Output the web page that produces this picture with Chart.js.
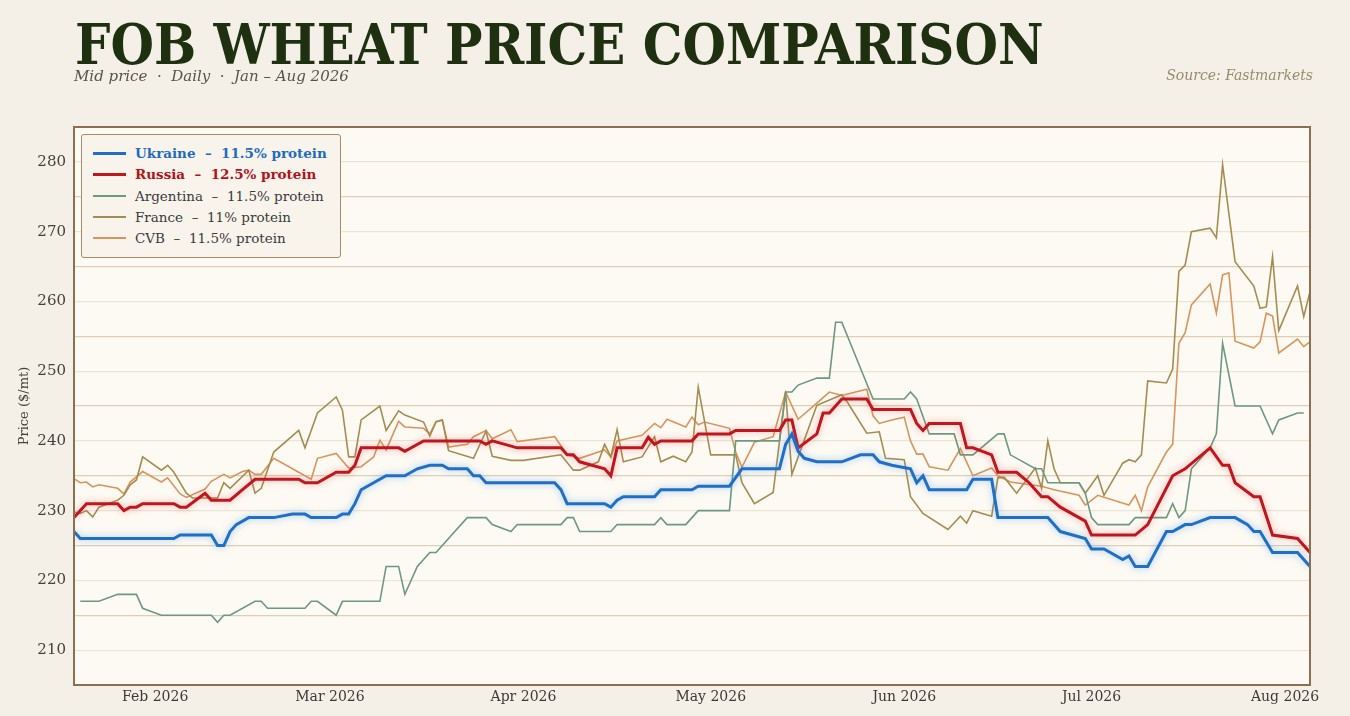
<!DOCTYPE html>
<html lang="en">
<head>
    <meta charset="UTF-8">
    <title>FOB Wheat Price Comparison</title>
    <script src="https://cdn.jsdelivr.net/npm/chart.js"></script>
    <style>
        body { margin: 0; background: #f4f0e8; }
        #page { position: relative; width: 1350px; height: 716px; overflow: hidden; }
        #chart { position: absolute; left: 0; top: 0; }
        #title {
            position: absolute; left: 75px; top: 17px; margin: 0;
            font: bold 55.5px/1 "DejaVu Serif Condensed", "DejaVu Serif", serif;
            color: #1e3010; white-space: nowrap;
        }
        #subtitle {
            position: absolute; left: 74px; top: 69px;
            font: italic 15px/1 "DejaVu Serif", serif;
            color: #5a5246; white-space: pre;
        }
        #source {
            position: absolute; right: 37px; top: 68px;
            font: italic 14px/1 "DejaVu Serif", serif;
            color: #9a8a6c; white-space: pre;
        }
        #legend {
            position: absolute; left: 81px; top: 134px; width: 260px; height: 124px;
            background: #f8f4ec; border: 1px solid #a58c68; border-radius: 3px;
            box-sizing: border-box;
        }
        .row { position: absolute; left: 0; height: 18px; }
        .swatch { position: absolute; left: 11px; width: 33px; }
        .label {
            position: absolute; left: 53px; top: 0; line-height: 18px;
            font-size: 13.5px; font-family: "DejaVu Serif", serif;
            white-space: pre; color: #3b3b3b;
        }
    </style>
</head>
<body>
<div id="page">
    <canvas id="chart" width="1350" height="716"></canvas>
    <h1 id="title">FOB WHEAT PRICE COMPARISON</h1>
    <div id="subtitle">Mid price  ·  Daily  ·  Jan – Aug 2026</div>
    <div id="source">Source: Fastmarkets</div>
    <div id="legend"></div>
</div>

<script>
    // x values are day of year 2026 (0 = 1 Jan), prices in $/mt
    const monthTickDays = [31, 59, 90, 120, 151, 181, 212];
    const monthTickLabels = ['Feb 2026', 'Mar 2026', 'Apr 2026', 'May 2026', 'Jun 2026', 'Jul 2026', 'Aug 2026'];

    const ukraineDay = [18, 19, 34, 35, 40, 41, 42, 43, 44, 46, 50, 53, 55, 56, 60, 61, 62, 63, 64, 66,
        68, 71, 73, 75, 77, 78, 81, 82, 83, 84, 95, 96, 97, 103, 104, 105, 106, 111, 112, 117,
        118, 123, 125, 131, 132, 133, 134, 135, 137, 141, 144, 146, 147, 149, 152, 153, 154, 155, 161, 162,
        165, 166, 174, 176, 180, 181, 183, 186, 187, 188, 190, 193, 194, 196, 197, 200, 204, 206, 207, 208,
        210, 214, 216];
    const ukraineVal = [227, 226, 226, 226.5, 226.5, 225, 225, 227, 228, 229, 229, 229.5, 229.5, 229, 229, 229.5, 229.5, 231, 233, 234,
        235, 235, 236, 236.5, 236.5, 236, 236, 235, 235, 234, 234, 233, 231, 231, 230.5, 231.5, 232, 232, 233, 233,
        233.5, 233.5, 236, 236, 239.5, 241, 238.5, 237.5, 237, 237, 238, 238, 237, 236.5, 236, 234, 235, 233, 233, 234.5,
        234.5, 229, 229, 227, 226, 224.5, 224.5, 223, 223.5, 222, 222, 227, 227, 228, 228, 229, 229, 228, 227, 227,
        224, 224, 222];

    const russiaDay = [18, 20, 25, 26, 27, 28, 29, 34, 35, 36, 39, 40, 43, 45, 47, 54, 55, 57, 60, 62,
        63, 64, 70, 71, 74, 83, 84, 85, 89, 96, 97, 98, 99, 103, 104, 105, 109, 110, 111, 112,
        117, 118, 123, 124, 131, 132, 133, 134, 137, 138, 139, 141, 145, 146, 152, 153, 154, 155, 160, 161,
        162, 165, 166, 169, 171, 173, 174, 176, 180, 181, 188, 190, 194, 196, 200, 202, 203, 204, 207, 208,
        210, 214, 216];
    const russiaVal = [229, 231, 231, 230, 230.5, 230.5, 231, 231, 230.5, 230.5, 232.5, 231.5, 231.5, 233, 234.5, 234.5, 234, 234, 235.5, 235.5,
        236.5, 239, 239, 238.5, 240, 240, 239.5, 240, 239, 239, 238, 238, 237, 236, 235, 239, 239, 240.5, 239.5, 240,
        240, 241, 241, 241.5, 241.5, 243, 243, 239, 241, 244, 244, 246, 246, 244.5, 244.5, 242.5, 241.5, 242.5, 242.5, 239,
        239, 238, 235.5, 235.5, 234, 232, 232, 230.5, 228.5, 226.5, 226.5, 228, 235, 236, 239, 236.5, 236.5, 234, 232, 232,
        226.5, 226, 224];

    const argentinaDay = [19, 22, 25, 28, 29, 32, 40, 41, 42, 43, 47, 48, 49, 55, 56, 57, 60, 61, 67, 68,
        70, 71, 73, 75, 76, 79, 81, 84, 85, 88, 89, 96, 97, 98, 99, 104, 105, 111, 112, 113,
        116, 118, 123, 124, 131, 132, 133, 134, 137, 139, 140, 141, 146, 151, 152, 153, 155, 159, 160, 162,
        166, 167, 168, 172, 173, 174, 179, 180, 181, 182, 187, 188, 193, 194, 195, 196, 197, 200, 201, 202,
        204, 208, 210, 211, 214, 215];
    const argentinaVal = [217, 217, 218, 218, 216, 215, 215, 214, 215, 215, 217, 217, 216, 216, 217, 217, 215, 217, 217, 222,
        222, 218, 222, 224, 224, 227, 229, 229, 228, 227, 228, 228, 229, 229, 227, 227, 228, 228, 229, 228,
        228, 230, 230, 240, 240, 247, 247, 248, 249, 249, 257, 257, 246, 246, 247, 246, 241, 241, 238, 238,
        241, 241, 238, 236, 236, 234, 234, 232.5, 229, 228, 228, 229, 229, 231, 229, 230, 236, 239, 241, 254,
        245, 245, 241, 243, 244, 244];

    const franceDay = [18, 19, 20, 21, 22, 25, 26, 27, 28, 29, 32, 33, 34, 36, 37, 41, 42, 43, 46, 47,
        48, 50, 54, 55, 57, 60, 61, 62, 63, 64, 67, 68, 70, 71, 74, 75, 76, 77, 78, 82,
        84, 85, 88, 90, 96, 98, 99, 101, 102, 103, 104, 105, 106, 109, 111, 112, 114, 116, 117, 118,
        120, 124, 125, 127, 130, 132, 133, 137, 141, 142, 145, 147, 148, 151, 152, 154, 158, 160, 161, 162,
        165, 166, 167, 169, 172, 173, 174, 175, 176, 179, 180, 182, 183, 186, 187, 188, 189, 190, 193, 194,
        195, 196, 197, 200, 201, 202, 204, 207, 208, 209, 210, 211, 214, 215, 216];
    const franceVal = [229.8, 229.6, 230, 229.1, 230.5, 231.5, 232.2, 233.7, 234.4, 237.7, 235.8, 236.5, 235.5, 232.5, 231.8, 231.8, 234, 233.2, 235.8, 232.5,
        233.2, 238.4, 241.5, 239, 244, 246.3, 244.4, 237.7, 237.7, 243, 245, 241.5, 244.3, 243.7, 242.7, 240.7, 242.7, 243, 238.6, 237.5,
        241.4, 237.8, 237.2, 237.2, 238, 235.8, 235.8, 236.6, 237, 239.5, 237.7, 241.6, 237, 237.7, 240.6, 237, 237.8, 237, 238.4, 247.7,
        238, 238, 234, 231, 232.6, 247, 235.2, 245.1, 246.6, 245.4, 241.1, 241.3, 237.5, 237.3, 232, 229.6, 227.3, 229.2, 228.2, 230,
        229.2, 234.7, 234.8, 232.5, 236.1, 233.2, 240, 236, 234, 234, 232.5, 235, 232.2, 236.8, 237.3, 237, 238, 248.6, 248.3, 250.3,
        264.3, 265.2, 270, 270.5, 269.1, 279.6, 265.7, 262.2, 259, 259.2, 266.4, 255.8, 262.2, 257.8, 261.4];

    const cvbDay = [18, 19, 20, 21, 22, 25, 26, 27, 29, 32, 33, 35, 36, 39, 40, 42, 43, 45, 46, 47,
        48, 50, 54, 56, 57, 60, 62, 64, 66, 67, 68, 70, 71, 74, 75, 76, 77, 78, 81, 82,
        84, 85, 88, 89, 95, 97, 99, 103, 104, 105, 109, 111, 112, 113, 116, 117, 118, 119, 123, 124,
        125, 127, 130, 132, 134, 137, 139, 141, 145, 146, 147, 149, 151, 152, 153, 154, 155, 158, 160, 162,
        165, 166, 168, 173, 175, 179, 180, 182, 187, 188, 189, 190, 193, 194, 195, 196, 197, 200, 201, 202,
        203, 204, 207, 208, 209, 210, 211, 214, 215, 216];
    const cvbVal = [234.6, 234, 234.1, 233.4, 233.7, 233.2, 232.4, 234.1, 235.6, 234.1, 234.7, 232.4, 231.9, 233.1, 234.2, 235.2, 234.7, 235.6, 235.8, 235.2,
        235.2, 237.5, 235.5, 234.5, 237.5, 238.2, 236.1, 236.3, 237.7, 240.1, 238.7, 242.8, 242, 241.8, 241, 242.8, 243, 239.1, 239.5, 240.6,
        241.5, 240.3, 241.6, 239.9, 240.6, 238, 237.5, 238.7, 237.7, 240, 240.8, 242.5, 241.9, 243.1, 242, 243.4, 242.3, 242.7, 241.8, 238.4,
        236.2, 239.8, 240.6, 247, 243.1, 245.4, 247, 246.5, 247.4, 243.6, 242.5, 243, 243.4, 240, 238.1, 238.1, 236.3, 235.8, 238.9, 235,
        236.1, 235, 234.1, 233.5, 233, 232.2, 230.8, 232.2, 230.8, 232.2, 230, 233.4, 238.4, 239.5, 254, 255.5, 259.5, 262.5, 258.3, 263.8,
        264.1, 254.3, 253.3, 254.2, 258.3, 257.9, 252.6, 254.6, 253.5, 254.2];

    const SERIF = 'DejaVu Serif';

    function points(days, vals) {
        return days.map((d, i) => ({ x: d, y: vals[i] }));
    }

    const datasets = [
        { label: 'Ukraine  –  11.5% protein', data: points(ukraineDay, ukraineVal), borderColor: '#1f6fc6',
          borderWidth: 3, glowColor: 'rgba(70, 150, 235, 0.55)', labelColor: '#1f6bc0', bold: true },
        { label: 'Russia  –  12.5% protein', data: points(russiaDay, russiaVal), borderColor: '#c0161e',
          borderWidth: 3, glowColor: 'rgba(230, 70, 70, 0.45)', labelColor: '#b3121a', bold: true },
        { label: 'Argentina  –  11.5% protein', data: points(argentinaDay, argentinaVal), borderColor: '#6d9882',
          borderWidth: 1.6 },
        { label: 'France  –  11% protein', data: points(franceDay, franceVal), borderColor: '#a68c50',
          borderWidth: 1.6 },
        { label: 'CVB  –  11.5% protein', data: points(cvbDay, cvbVal), borderColor: '#d9955c',
          borderWidth: 1.6 }
    ];
    datasets.forEach(ds => {
        ds.pointRadius = 0;
        ds.tension = 0;
        ds.fill = false;
    });

    const plotFrame = {
        id: 'plotFrame',
        beforeDraw(chart) {
            const { ctx, chartArea: a } = chart;
            ctx.save();
            ctx.fillStyle = '#fdfaf3';
            ctx.fillRect(a.left, a.top, a.width, a.height);
            ctx.restore();
        },
        afterDraw(chart) {
            const { ctx, chartArea: a } = chart;
            ctx.save();
            ctx.strokeStyle = '#8b6f50';
            ctx.lineWidth = 2;
            ctx.strokeRect(a.left, a.top, a.width, a.height);
            ctx.restore();
        }
    };

    // soft halo under the two headline series
    const glow = {
        id: 'glow',
        beforeDatasetDraw(chart, args) {
            const ds = chart.data.datasets[args.index];
            if (!ds.glowColor) return;
            chart.ctx.save();
            chart.ctx.shadowColor = ds.glowColor;
            chart.ctx.shadowBlur = 7;
        },
        afterDatasetDraw(chart, args) {
            if (chart.data.datasets[args.index].glowColor) chart.ctx.restore();
        }
    };

    const chart = new Chart(document.getElementById('chart'), {
        type: 'line',
        data: { datasets: datasets },
        options: {
            responsive: false,
            animation: false,
            layout: { padding: { top: 127, right: 40, left: 0, bottom: 0 } },
            plugins: { legend: { display: false }, tooltip: { enabled: false } },
            scales: {
                x: {
                    type: 'linear',
                    min: 18,
                    max: 216,
                    afterBuildTicks: scale => { scale.ticks = monthTickDays.map(v => ({ value: v })); },
                    afterFit: scale => { scale.height = 31; },
                    grid: { display: false, drawTicks: false },
                    border: { display: false },
                    ticks: {
                        autoSkip: false,
                        maxRotation: 0,
                        padding: 4,
                        color: '#3d3a35',
                        font: { family: SERIF, size: 14 },
                        callback: v => monthTickLabels[monthTickDays.indexOf(v)]
                    }
                },
                y: {
                    min: 205,
                    max: 285,
                    afterFit: scale => { scale.width = 74; },
                    border: { display: false },
                    grid: {
                        drawTicks: false,
                        lineWidth: 1.2,
                        color: ctx => (ctx.tick && ctx.tick.value % 10 === 0) ? '#ece5d6' : '#ddd0b6'
                    },
                    ticks: {
                        stepSize: 5,
                        padding: 8,
                        color: '#45413b',
                        font: { family: SERIF, size: 15 },
                        callback: v => (v % 10 === 0 ? v : '')
                    },
                    title: {
                        display: true,
                        text: 'Price ($/mt)',
                        color: '#45413b',
                        font: { family: SERIF, size: 13 },
                        padding: { top: 17, bottom: 0 }
                    }
                }
            }
        },
        plugins: [plotFrame, glow]
    });

    // html legend, built from the datasets
    const legend = document.getElementById('legend');
    datasets.forEach((ds, i) => {
        const row = document.createElement('div');
        row.className = 'row';
        row.style.top = (9 + i * 21.3) + 'px';
        const sw = document.createElement('span');
        sw.className = 'swatch';
        sw.style.background = ds.borderColor;
        sw.style.height = (ds.bold ? 3 : 2) + 'px';
        sw.style.top = (9 - (ds.bold ? 1.5 : 1)) + 'px';
        const txt = document.createElement('span');
        txt.className = 'label';
        txt.textContent = ds.label;
        if (ds.bold) {
            txt.style.fontWeight = 'bold';
            txt.style.color = ds.labelColor;
        }
        row.appendChild(sw);
        row.appendChild(txt);
        legend.appendChild(row);
    });
</script>
</body>
</html>
